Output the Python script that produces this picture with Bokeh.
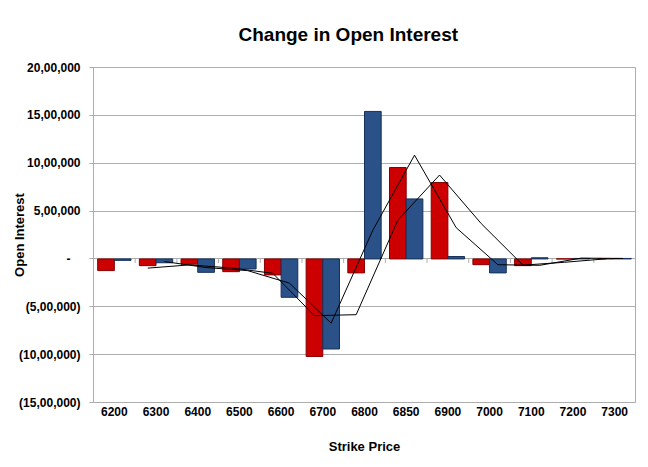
from bokeh.plotting import figure
from bokeh.models import Range1d, FixedTicker, ColumnDataSource
from bokeh.embed import file_html
from bokeh.resources import INLINE

# ---- data ----
strikes = ["6200", "6300", "6400", "6500", "6600", "6700", "6800",
           "6850", "6900", "7000", "7100", "7200", "7300"]
call_change = [-122000, -70000, -55000, -133000, -167000, -1019000, -146000,
               955000, 798000, -60000, -70000, 0, 3000]
put_change = [-15000, -40000, -140000, -105000, -401000, -941000, 1541000,
              627000, 25000, -146000, 12000, 5000, 5000]
y_tick_values = [-1500000, -1000000, -500000, 0, 500000, 1000000, 1500000, 2000000]
y_tick_labels = ["(15,00,000)", "(10,00,000)", "(5,00,000)", "-\u00a0\u00a0\u00a0",
                 "5,00,000", "10,00,000", "15,00,000", "20,00,000"]

FONT = "Liberation Sans"
GRID = "#ADADAD"
RED, RED_EDGE = "#CC0000", "#850000"
BLUE, BLUE_EDGE = "#2A5288", "#16305A"

W, H = 648, 467
B_LEFT, B_RIGHT, B_TOP, B_BOTTOM = 93, 13, 67, 65
Y_MIN, Y_MAX = -1500000, 2000000

n = len(strikes)
centers = [i + 0.5 for i in range(n)]
call_x = [c - 0.2 for c in centers]
put_x = [c + 0.2 for c in centers]

# 2-period moving averages (trendlines)
call_ma = [(call_change[i - 1] + call_change[i]) / 2 for i in range(1, n)]
put_ma = [(put_change[i - 1] + put_change[i]) / 2 for i in range(1, n)]

p = figure(width=W, height=H, output_backend="svg", toolbar_location=None,
           x_range=Range1d(0, n), y_range=Range1d(Y_MIN, Y_MAX),
           min_border_left=B_LEFT, min_border_right=B_RIGHT,
           min_border_top=B_TOP, min_border_bottom=B_BOTTOM)

p.background_fill_color = "white"
p.border_fill_color = "white"
p.outline_line_color = GRID
p.outline_line_width = 1

# title
p.title.text = "Change in Open Interest"
p.title.text_font = FONT
p.title.text_font_size = "19px"
p.title.text_font_style = "bold"
p.title.text_color = "black"
p.title.align = "left"
p.title.vertical_align = "top"
p.title.offset = 145
p.title.standoff = 42

# category tick marks along the zero line (4 px long, pointing down)
frame_h = H - B_TOP - B_BOTTOM
tick_len = (Y_MAX - Y_MIN) / frame_h * 4
bounds = list(range(1, n))
p.segment(x0=bounds, y0=[0] * len(bounds), x1=bounds, y1=[-tick_len] * len(bounds),
          line_color=GRID, line_width=1)

# bars
src_call = ColumnDataSource(dict(x=call_x, top=call_change))
src_put = ColumnDataSource(dict(x=put_x, top=put_change))
p.vbar(x="x", top="top", bottom=0, width=0.4, source=src_call,
       fill_color=RED, line_color=RED_EDGE, line_width=1)
p.vbar(x="x", top="top", bottom=0, width=0.4, source=src_put,
       fill_color=BLUE, line_color=BLUE_EDGE, line_width=1)

# moving-average trendlines
p.line(x=call_x[1:], y=call_ma, line_color="black", line_width=1)
p.line(x=put_x[1:], y=put_ma, line_color="black", line_width=1)

# x axis (labels)
xa = p.xaxis[0]
xa.ticker = FixedTicker(ticks=centers)
xa.major_label_overrides = {c: s for c, s in zip(centers, strikes)}
xa.major_tick_line_color = None
xa.major_tick_out = 0
xa.minor_tick_line_color = None
xa.axis_line_color = None
xa.major_label_standoff = 4
xa.major_label_text_font = FONT
xa.major_label_text_font_size = "12px"
xa.major_label_text_font_style = "bold"
xa.major_label_text_color = "black"
xa.axis_label = "Strike Price"
xa.axis_label_text_font = FONT
xa.axis_label_text_font_size = "13px"
xa.axis_label_text_font_style = "bold"
xa.axis_label_text_color = "black"
xa.axis_label_standoff = 20

# y axis
ya = p.yaxis[0]
ya.ticker = FixedTicker(ticks=y_tick_values)
ya.major_label_overrides = {v: s for v, s in zip(y_tick_values, y_tick_labels)}
ya.axis_line_color = GRID
ya.major_tick_line_color = GRID
ya.major_tick_out = 4
ya.major_tick_in = 0
ya.minor_tick_line_color = None
ya.major_label_standoff = 9
ya.major_label_text_font = FONT
ya.major_label_text_font_size = "12px"
ya.major_label_text_font_style = "bold"
ya.major_label_text_color = "black"
ya.axis_label = "Open Interest"
ya.axis_label_text_font = FONT
ya.axis_label_text_font_size = "13px"
ya.axis_label_text_font_style = "bold"
ya.axis_label_text_color = "black"
ya.axis_label_standoff = -11

p.xgrid.grid_line_color = None
p.ygrid.ticker = FixedTicker(ticks=y_tick_values)
p.ygrid.grid_line_color = GRID

open("out.html", "w").write(file_html(p, INLINE))
